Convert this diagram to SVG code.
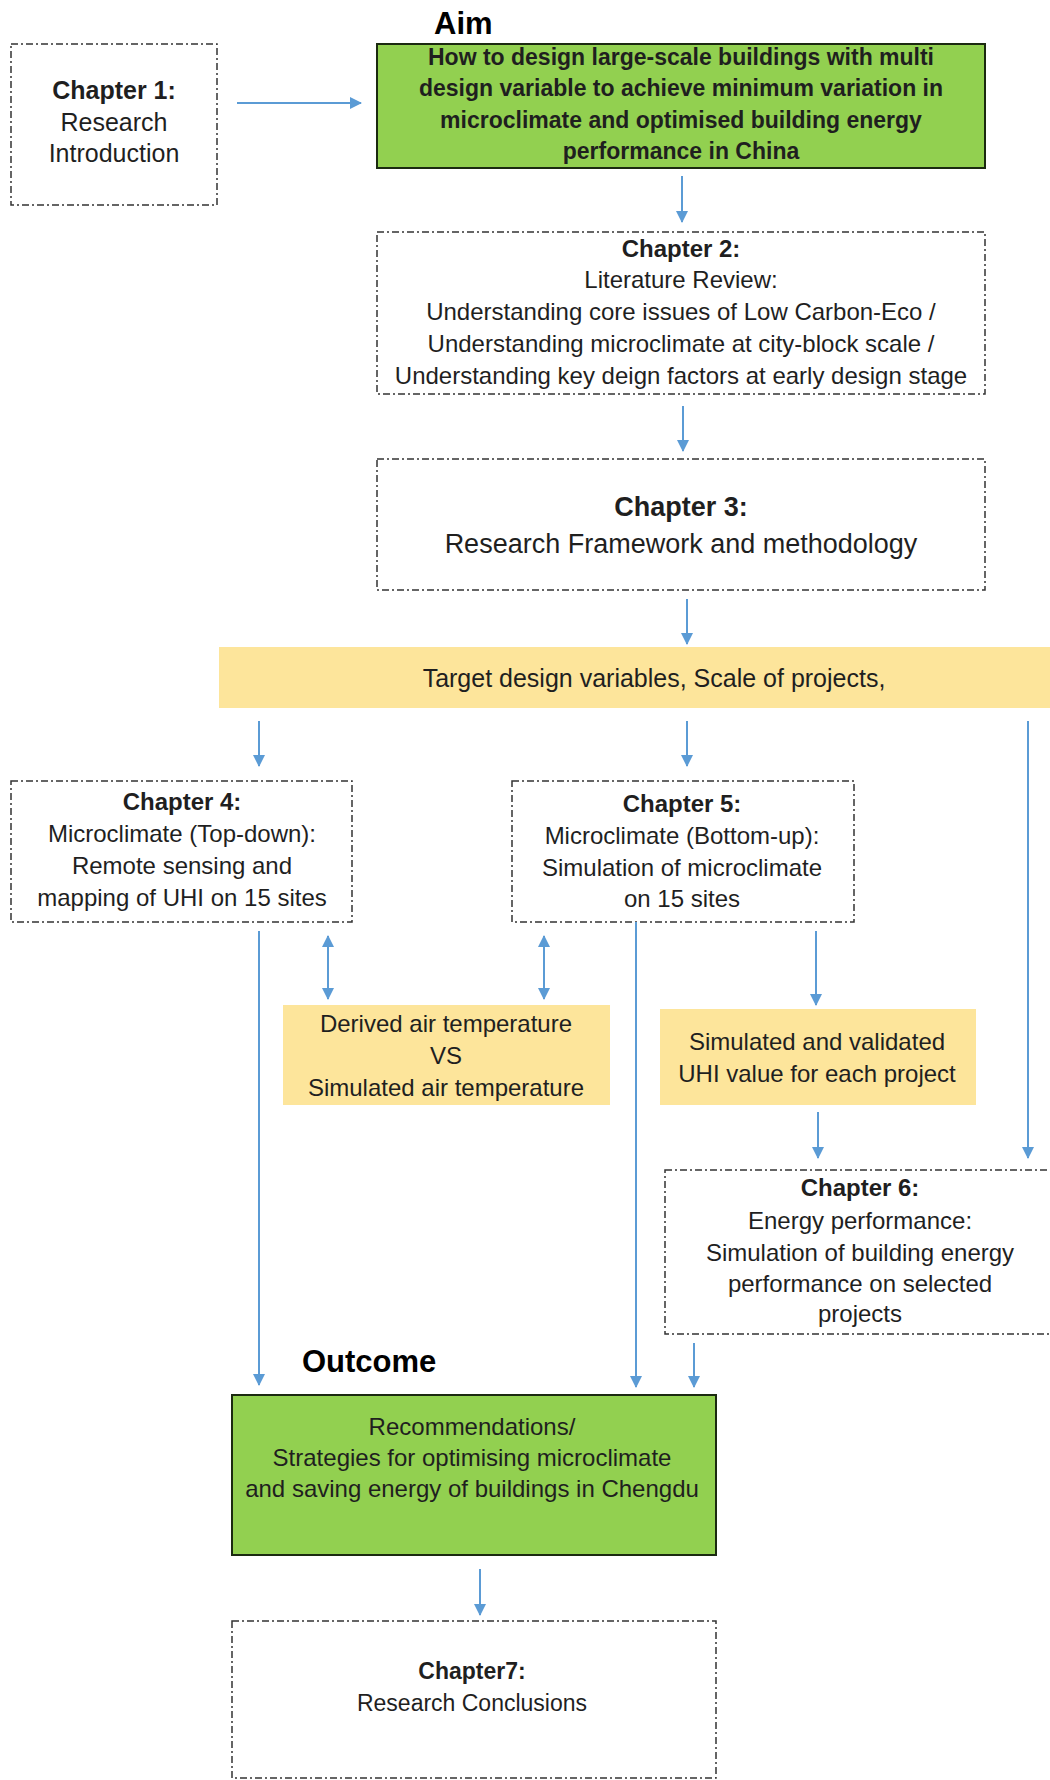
<svg xmlns="http://www.w3.org/2000/svg" width="1050" height="1780" viewBox="0 0 1050 1780">
<style>
text{font-family:"Liberation Sans",Arial,sans-serif;fill:#1f1f1f;text-anchor:middle;}
.t{font-size:24px;}
.b{font-weight:bold;}
.h{font-size:31px;font-weight:bold;text-anchor:start;fill:#000;}
.dash{fill:#fff;stroke:#333;stroke-width:1.5;stroke-dasharray:7 3 2 3;}
.green{fill:#92d050;stroke:#1b2a10;stroke-width:2;}
.yel{fill:#fde59b;stroke:none;}
.c{stroke:#5b9bd5;stroke-width:2;fill:none;}
</style>
<defs>
<marker id="ah" markerWidth="12" markerHeight="12" refX="11" refY="6" orient="auto" markerUnits="userSpaceOnUse">
<path d="M0,0 L12,6 L0,12 Z" fill="#5b9bd5"/>
</marker>
<marker id="as" markerWidth="12" markerHeight="12" refX="1" refY="6" orient="auto" markerUnits="userSpaceOnUse">
<path d="M12,0 L0,6 L12,12 Z" fill="#5b9bd5"/>
</marker>
</defs>
<rect width="1050" height="1780" fill="#fff"/>

<text class="h" x="434" y="34">Aim</text>
<text class="h" x="302" y="1372">Outcome</text>

<g id="ch1">
<rect class="dash" x="11" y="44" width="206" height="161"/>
<text class="t b" x="114" y="99" style="font-size:25px">Chapter 1:</text>
<text class="t" x="114" y="131" style="font-size:25px">Research</text>
<text class="t" x="114" y="162" style="font-size:25px">Introduction</text>
</g>

<g id="aim">
<rect class="green" x="377" y="44" width="608" height="124"/>
<text class="b" style="font-size:23px" x="681" y="65">How to design large-scale buildings with multi</text>
<text class="b" style="font-size:23px" x="681" y="96">design variable to achieve minimum variation in</text>
<text class="b" style="font-size:23px" x="681" y="128">microclimate and optimised building energy</text>
<text class="b" style="font-size:23px" x="681" y="159">performance in China</text>
</g>

<g id="ch2">
<rect class="dash" x="377" y="232" width="608" height="162"/>
<text class="t b" x="681" y="257">Chapter 2:</text>
<text class="t" x="681" y="288">Literature Review:</text>
<text class="t" x="681" y="320">Understanding core issues of Low Carbon-Eco /</text>
<text class="t" x="681" y="352">Understanding microclimate at city-block scale /</text>
<text class="t" x="681" y="384">Understanding key deign factors at early design stage</text>
</g>

<g id="ch3">
<rect class="dash" x="377" y="459" width="608" height="131"/>
<text class="b" style="font-size:27px" x="681" y="516">Chapter 3:</text>
<text style="font-size:27px" x="681" y="553">Research Framework and methodology</text>
</g>

<g id="band">
<rect class="yel" x="219" y="647" width="831" height="61"/>
<text class="t" style="font-size:25px" x="654" y="687">Target design variables, Scale of projects,</text>
</g>

<g id="ch4">
<rect class="dash" x="11" y="781" width="341" height="141"/>
<text class="t b" x="182" y="810">Chapter 4:</text>
<text class="t" x="182" y="842">Microclimate (Top-down):</text>
<text class="t" x="182" y="874">Remote sensing and</text>
<text class="t" x="182" y="906">mapping of UHI on 15 sites</text>
</g>

<g id="ch5">
<rect class="dash" x="512" y="781" width="342" height="141"/>
<text class="t b" x="682" y="812">Chapter 5:</text>
<text class="t" x="682" y="844">Microclimate (Bottom-up):</text>
<text class="t" x="682" y="876">Simulation of microclimate</text>
<text class="t" x="682" y="907">on 15 sites</text>
</g>

<g id="derived">
<rect class="yel" x="283" y="1005" width="327" height="100"/>
<text class="t" x="446" y="1032">Derived air temperature</text>
<text class="t" x="446" y="1064">VS</text>
<text class="t" x="446" y="1096">Simulated air temperature</text>
</g>

<g id="uhi">
<rect class="yel" x="660" y="1009" width="316" height="96"/>
<text class="t" x="817" y="1050">Simulated and validated</text>
<text class="t" x="817" y="1082">UHI value for each project</text>
</g>

<g id="ch6">
<rect class="dash" x="665" y="1170" width="400" height="164"/>
<text class="t b" x="860" y="1196">Chapter 6:</text>
<text class="t" x="860" y="1229">Energy performance:</text>
<text class="t" x="860" y="1261">Simulation of building energy</text>
<text class="t" x="860" y="1292">performance on selected</text>
<text class="t" x="860" y="1322">projects</text>
</g>

<g id="outcome">
<rect class="green" x="232" y="1395" width="484" height="160"/>
<text class="t" x="472" y="1435">Recommendations/</text>
<text class="t" x="472" y="1466">Strategies for optimising microclimate</text>
<text class="t" x="472" y="1497">and saving energy of buildings in Chengdu</text>
</g>

<g id="ch7">
<rect class="dash" x="232" y="1621" width="484" height="157"/>
<text class="b" style="font-size:23px" x="472" y="1679">Chapter7:</text>
<text style="font-size:23px" x="472" y="1711">Research Conclusions</text>
</g>

<g id="connectors">
<line class="c" x1="237" y1="103" x2="361" y2="103" marker-end="url(#ah)"/>
<line class="c" x1="682" y1="176" x2="682" y2="222" marker-end="url(#ah)"/>
<line class="c" x1="683" y1="406" x2="683" y2="451" marker-end="url(#ah)"/>
<line class="c" x1="687" y1="599" x2="687" y2="644" marker-end="url(#ah)"/>
<line class="c" x1="259" y1="721" x2="259" y2="766" marker-end="url(#ah)"/>
<line class="c" x1="687" y1="721" x2="687" y2="766" marker-end="url(#ah)"/>
<line class="c" x1="1028" y1="721" x2="1028" y2="1158" marker-end="url(#ah)"/>
<line class="c" x1="259" y1="931" x2="259" y2="1385" marker-end="url(#ah)"/>
<line class="c" x1="328" y1="936" x2="328" y2="999" marker-start="url(#as)" marker-end="url(#ah)"/>
<line class="c" x1="544" y1="936" x2="544" y2="999" marker-start="url(#as)" marker-end="url(#ah)"/>
<line class="c" x1="636" y1="922" x2="636" y2="1387" marker-end="url(#ah)"/>
<line class="c" x1="816" y1="931" x2="816" y2="1005" marker-end="url(#ah)"/>
<line class="c" x1="818" y1="1112" x2="818" y2="1158" marker-end="url(#ah)"/>
<line class="c" x1="694" y1="1343" x2="694" y2="1387" marker-end="url(#ah)"/>
<line class="c" x1="480" y1="1569" x2="480" y2="1615" marker-end="url(#ah)"/>
</g>
</svg>
